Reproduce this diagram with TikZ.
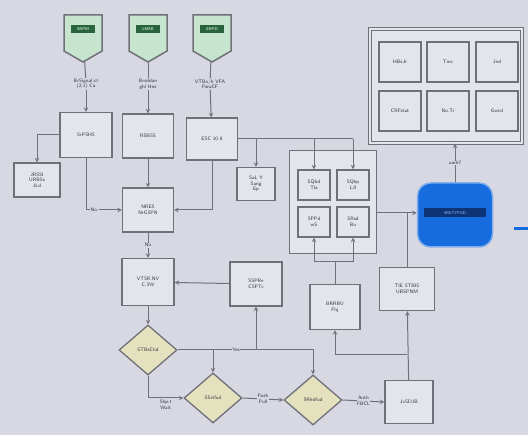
\documentclass[tikz,border=0pt]{standalone}
\usepackage{amsmath}
\usepackage{amssymb}
\usetikzlibrary{shapes.geometric,shapes.symbols}
\definecolor{bggray}{RGB}{216,216,226}
\definecolor{boxfill}{RGB}{228,228,235}
\definecolor{linegray}{RGB}{112,112,120}
\definecolor{textgray}{RGB}{50,50,62}
\definecolor{shieldfill}{RGB}{198,228,206}
\definecolor{shieldtxt}{RGB}{40,100,60}
\definecolor{diafill}{RGB}{228,226,190}
\definecolor{cylblue}{RGB}{22,108,222}
\definecolor{cyldark}{RGB}{14,52,120}
\begin{document}
\begin{tikzpicture}[x=1pt,y=-1pt,>=stealth,line width=1pt,draw=linegray]
  \tikzstyle{box}=[rectangle,draw=linegray,line width=1.3pt,fill=boxfill,align=center,inner sep=1pt,text=textgray,font=\sffamily\fontsize{5}{5.6}\selectfont]
  \tikzstyle{cell}=[box,minimum width=42,minimum height=40]
  \tikzstyle{quad}=[box,minimum width=32,minimum height=30]
  \tikzstyle{shield}=[shape=signal,signal to=south,signal pointer angle=120,draw=linegray,line width=1.5pt,fill=shieldfill,minimum width=38,minimum height=38]
  \tikzstyle{badge}=[fill=shieldtxt,text=shieldfill,font=\sffamily\bfseries\fontsize{4}{4.5}\selectfont,inner sep=1.5pt,minimum width=24,minimum height=8]
  \tikzstyle{decision}=[diamond,draw=linegray,line width=1.3pt,fill=diafill,aspect=1.15,inner sep=0pt,minimum width=58,minimum height=50,text=textgray,font=\sffamily\fontsize{5}{5.6}\selectfont]
  \tikzstyle{tag}=[align=center,inner sep=0.5pt,fill=bggray,text=textgray,font=\sffamily\fontsize{5}{5.6}\selectfont]
  \tikzstyle{wire}=[draw=linegray,line width=1pt]
  \tikzstyle{drum}=[rectangle,rounded corners=13pt,draw=cylblue!55!white,line width=1.5pt,fill=cylblue,minimum width=75,minimum height=64]

  \fill[bggray] (0,0) rectangle (528,435);
  \useasboundingbox (0,0) rectangle (528,435);

  \node[shield] (S_1) at (83,33) {};
  \node[shield] (S_2) at (148,33) {};
  \node[shield] (S_3) at (212,33) {};
  \node[badge] (B_1) at (83,29) {SRPM};
  \node[badge] (B_2) at (148,29) {LMSR};
  \node[badge] (B_3) at (212,29) {ERPD};

  \node[tag] (L_1) at (86,84) {BrSignal.ct\\(2,1) Ca};
  \node[tag] (L_2) at (148,84) {Brsddan\\ghl Hns};
  \node[tag] (L_3) at (210,84) {VTBo/h VFA\\ParaCF};

  \node[box,minimum width=52,minimum height=45] (P_1) at (86,135) {SrPSHS};
  \node[box,minimum width=51,minimum height=44] (P_2) at (148,136) {RSBSS};
  \node[box,minimum width=51,minimum height=42] (P_3) at (212,139) {ESC 10 8};
  \node[box,minimum width=46,minimum height=34] (P_4) at (37,180) {JRSSI\\URBSs\\JLd};
  \node[box,minimum width=38,minimum height=33] (P_5) at (256,184) {SaL Y\\Sang\\Ep};
  \node[box,minimum width=51,minimum height=44] (P_6) at (148,210) {NRES\\NrGSPN};
  \node[box,minimum width=52,minimum height=47] (P_7) at (148,282) {VTSR.NV\\C.3W};
  \node[box,minimum width=52,minimum height=44] (P_8) at (256,284) {SSPRe\\CSPTc};
  \node[box,minimum width=50,minimum height=45] (P_10) at (335,307) {BRRBU\\Fhj};
  \node[box,minimum width=55,minimum height=43] (P_11) at (407,289) {TIE STBIS\\UBSPNM};
  \node[box,minimum width=48,minimum height=43] (P_9) at (409,402) {JvSDJB};

  \node[decision] (D_1) at (148,350) {STBsChd};
  \node[decision] (D_2) at (213,398) {SSrtfud};
  \node[decision] (D_3) at (313,400) {SRhdfud};

  \node[box,minimum width=87,minimum height=103,fill=boxfill] (Q) at (333,202) {};
  \node[quad] (Q_1) at (314,185) {SQbd\\Tla};
  \node[quad] (Q_2) at (353,185) {SQhp\\LJI};
  \node[quad] (Q_3) at (314,222) {SPPd\\wS};
  \node[quad] (Q_4) at (353,222) {SRsd\\Bu};

  \node[box,minimum width=152,minimum height=114,double=boxfill,double distance=2pt] (W) at (446,86) {};
  \node[cell] (T_1) at (400,62) {HBsJr};
  \node[cell] (T_2) at (448,62) {Tmc};
  \node[cell] (T_3) at (497,62) {Jnd};
  \node[cell] (T_4) at (400,111) {CRFstat};
  \node[cell] (T_5) at (448,111) {No.Tr};
  \node[cell] (T_6) at (497,111) {Gwcd};

  \node[drum] (C_1) at (455,215) {};
  \node[fill=cyldark,text=cylblue!40,font=\sffamily\fontsize{4}{4.5}\selectfont,minimum width=62,minimum height=9,inner sep=0pt] (C_2) at (455,213) {SRSTYPGD};

  \coordinate (c_1) at (256,139);
  \coordinate (c_2) at (314,139);
  \coordinate (c_3) at (353,139);
  \coordinate (c_4) at (335,262);
  \coordinate (c_5) at (314,262);
  \coordinate (c_6) at (353,262);
  \coordinate (c_7) at (407,213);
  \coordinate (c_8) at (407,355);
  \coordinate (c_9) at (213,350);
  \coordinate (c_10) at (256,350);
  \coordinate (c_11) at (514,229);
  \coordinate (c_12) at (528,229);

  \draw[wire] (S_1) -- (L_1);
  \draw[wire] (S_2) -- (L_2);
  \draw[wire] (S_3) -- (L_3);
  \draw[wire,->] (L_1) -- (P_1);
  \draw[wire,->] (L_2) -- (P_2);
  \draw[wire,->] (L_3) -- (P_3);

  \draw[wire,->] (P_1.west) -| (P_4.north);
  \draw[wire,->] (P_1.south) |- (P_6.west) node[tag,pos=0.62] {No.};
  \draw[wire,->] (P_2) -- (P_6);
  \draw[wire,->] (P_3.south) |- (P_6.east);
  \draw[wire] (P_3.east) -- (c_3);
  \draw[wire,->] (c_1) -- (P_5.north);
  \draw[wire,->] (c_2) -- (Q_1.north);
  \draw[wire,->] (c_3) -- (Q_2.north);

  \draw[wire,->] (P_6) -- (P_7) node[tag,midway] {No};
  \draw[wire,->] (P_8) -- (P_7);
  \draw[wire,->] (P_7) -- (D_1);

  \draw[wire,->] (D_1.east) -| (D_3.north);
  \node[tag] (Y_1) at (236,350) {Yes};
  \draw[wire,->] (c_9) -- (D_2.north);
  \draw[wire,->] (c_10) -- (P_8.south);
  \draw[wire,->] (D_1.south) |- (D_2.west) node[tag,pos=0.75,below=1pt] {Shp.t\\Wait};
  \draw[wire,->] (D_2.east) -- (D_3.west) node[tag,midway] {Push\\Pull};
  \draw[wire,->] (D_3.east) -- (P_9.west) node[tag,midway] {Auth\\FBCL};

  \draw[wire,->] (P_9) -- (P_11);
  \draw[wire,->] (c_8) -| (P_10.south);
  \draw[wire] (P_10.north) -- (c_4);
  \draw[wire] (c_5) -- (c_6);
  \draw[wire,->] (c_5) -- (Q_3.south);
  \draw[wire,->] (c_6) -- (Q_4.south);

  \draw[wire,->] (Q.east |- c_7) -- (C_1.west |- c_7);
  \draw[wire] (P_11.north) -- (c_7);
  \draw[wire,->] (C_1.north) -- (C_1.north |- W.south) node[tag,midway] {uarh7};
  \draw[draw=cylblue,line width=3pt] (c_11) -- (c_12);
\end{tikzpicture}
\end{document}
